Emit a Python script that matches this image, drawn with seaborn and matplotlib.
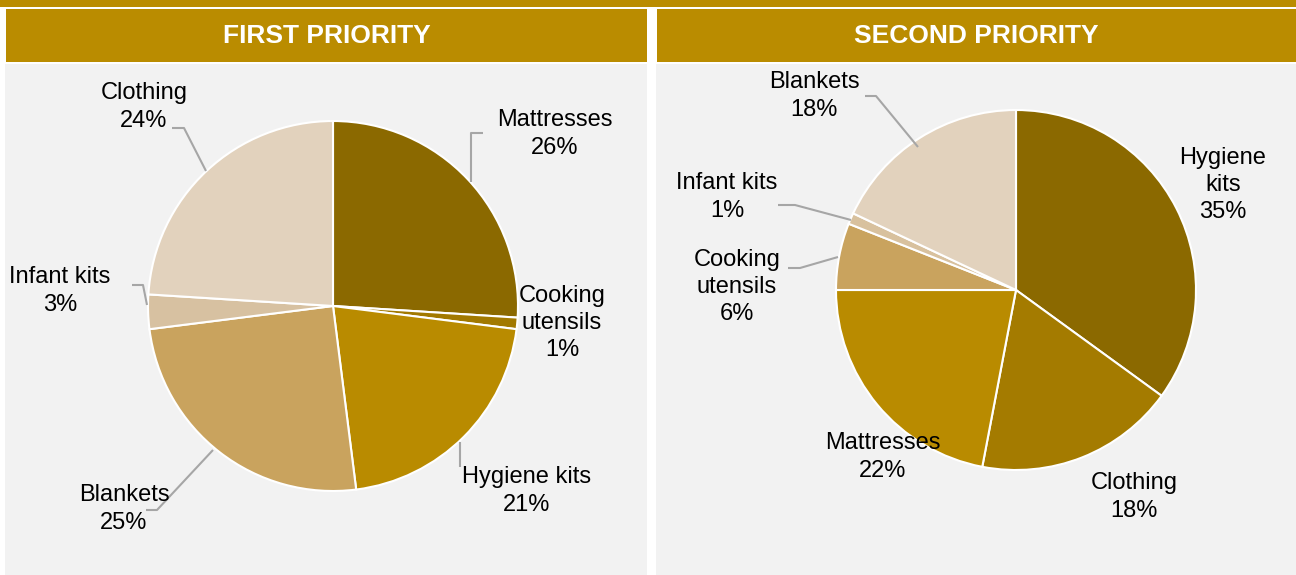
import matplotlib
matplotlib.use("Agg")
import matplotlib.pyplot as plt
from matplotlib.patches import Rectangle
import seaborn as sns

sns.set_theme(style="white")
plt.rcParams['font.family'] = ['Liberation Sans', 'DejaVu Sans']

# ---------------- data ----------------
titles = ["FIRST PRIORITY", "SECOND PRIORITY"]

first_labels = ["Mattresses", "Cooking\nutensils", "Hygiene kits", "Blankets", "Infant kits", "Clothing"]
first_values = [26, 1, 21, 25, 3, 24]

second_labels = ["Hygiene\nkits", "Clothing", "Mattresses", "Cooking\nutensils", "Infant kits", "Blankets"]
second_values = [35, 18, 22, 6, 1, 18]

# ---------------- style ----------------
GOLD = "#BA8C00"
PANEL = "#F2F2F2"
first_colors = ["#8B6900", "#A27900", "#B98B00", "#C9A35E", "#D7C1A1", "#E2D2BD"]
second_colors = ["#8B6900", "#A47B00", "#B98B00", "#C9A35E", "#D8C19E", "#E2D2BD"]

W, H = 1296, 575
fig = plt.figure(figsize=(W / 100, H / 100), dpi=100)
fig.patch.set_facecolor("white")

def fx(px):
    return px / W

def fy(py):
    return 1 - py / H

# top strip
fig.patches.append(Rectangle((0, fy(7)), 1, 7 / H, transform=fig.transFigure,
                             facecolor=GOLD, edgecolor="none", zorder=-5))

panels = [
    dict(x0=6, x1=647, cx=333, cy=306, r=185, labels=first_labels,
         values=first_values, colors=first_colors,
         # label centres (px offset from pie centre) and leader lines
         lpos=[(222, 172), (229, -17), (194, -185), (-209, -203), (-273, 15), (-189, 199)],
         leaders=[[(150, 173), (138, 173), (138, 124)],
                  None,
                  [(127, -136), (127, -161)],
                  [(-120, -144), (-176, -204), (-187, -204)],
                  [(-201, 21), (-190, 21), (-186, 1)],
                  [(-161, 178), (-149, 178), (-127, 135)]]),
    dict(x0=657, x1=1296, cx=1016, cy=290, r=180, labels=second_labels,
         values=second_values, colors=second_colors,
         lpos=[(207, 105), (118, -207), (-133, -167), (-279, 3), (-289, 93), (-202, 194)],
         leaders=[None, None, None,
                  [(-178, 33), (-216, 22), (-228, 22)],
                  [(-165, 70), (-221, 85), (-238, 85)],
                  [(-98, 143), (-140, 194), (-151, 194)]]),
]

for i, p in enumerate(panels):
    # header and panel background
    fig.patches.append(Rectangle((fx(p["x0"]), fy(62)), fx(p["x1"] - p["x0"]), 53 / H,
                                 transform=fig.transFigure, facecolor=GOLD,
                                 edgecolor="none", zorder=-5))
    fig.patches.append(Rectangle((fx(p["x0"] - 1), 0), fx(p["x1"] - p["x0"] + 1), 1 - 64 / H,
                                 transform=fig.transFigure, facecolor=PANEL,
                                 edgecolor="none", zorder=-5))
    fig.text(fx((p["x0"] + p["x1"]) / 2), fy(36), titles[i], color="white",
             fontsize=19, fontweight="bold", ha="center", va="center")

    ax = fig.add_axes([fx(p["x0"]), 0, fx(p["x1"] - p["x0"]), 1 - 64 / H])
    ax.set_zorder(1)
    ax.patch.set_alpha(0)
    ax.pie(p["values"], colors=p["colors"], startangle=90, counterclock=False,
           radius=p["r"], center=(0, 0),
           wedgeprops=dict(edgecolor="white", linewidth=1.5))
    ax.set_aspect("equal", adjustable="datalim")
    ax.set_xlim(p["x0"] - p["cx"], p["x1"] - p["cx"])
    ax.set_ylim(-(H - p["cy"]), p["cy"] - 64)
    ax.set_axis_off()

    for lab, val, (lx, ly), lead in zip(p["labels"], p["values"], p["lpos"], p["leaders"]):
        ax.text(lx, ly, f"{lab}\n{val}%", ha="center", va="center",
                fontsize=17, color="black", linespacing=1.32)
        if lead:
            xs = [q[0] for q in lead]
            ys = [q[1] for q in lead]
            ax.plot(xs, ys, color="#A6A6A6", linewidth=1.5, solid_capstyle="butt")

fig.savefig("out.png", dpi=100, facecolor="white")
